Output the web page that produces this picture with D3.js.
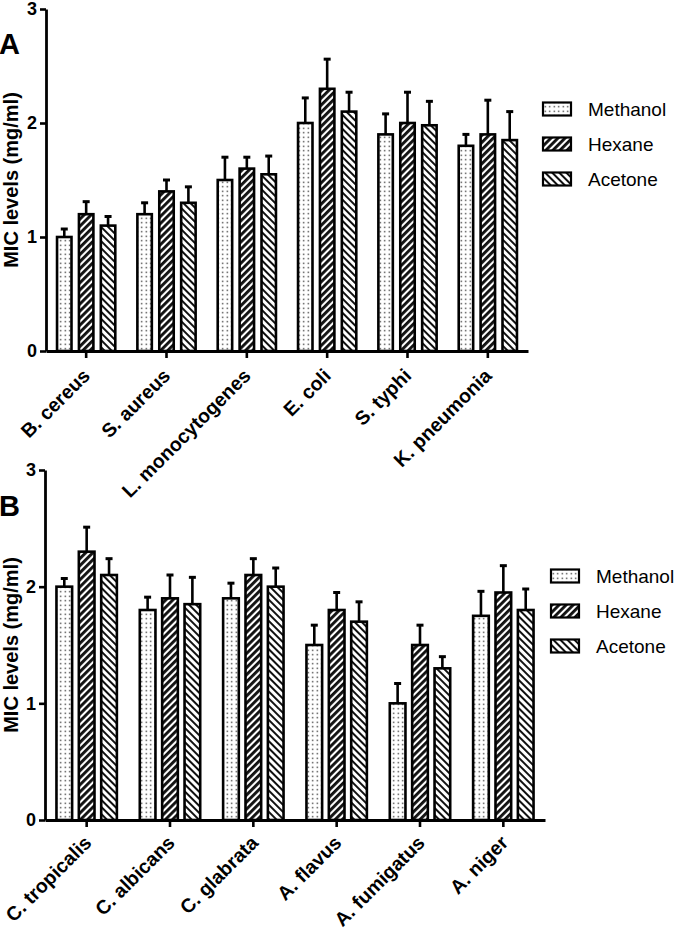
<!DOCTYPE html>
<html>
<head>
<meta charset="utf-8">
<script src="https://cdn.jsdelivr.net/npm/d3@7"></script>
<style>
  body { margin: 0; background: #fff; }
  svg { display: block; font-family: Arial, "Liberation Sans", sans-serif; }
  .lab text { transform-box: view-box; }
</style>
</head>
<body>
<svg id="chart" width="677" height="937"></svg>
<script>
// ---- data ----
const seriesNames = ["Methanol", "Hexane", "Acetone"];
const yTicks = [0, 1, 2, 3];

const categoriesA = ["B. cereus", "S. aureus", "L. monocytogenes", "E. coli", "S. typhi", "K. pneumonia"];
const methanolA = [1.0, 1.2, 1.5, 2.0, 1.9, 1.8];
const hexaneA   = [1.2, 1.4, 1.6, 2.3, 2.0, 1.9];
const acetoneA  = [1.1, 1.3, 1.55, 2.1, 1.98, 1.85];
const methanolErrA = [0.07, 0.10, 0.20, 0.22, 0.18, 0.10];
const hexaneErrA   = [0.11, 0.10, 0.10, 0.26, 0.27, 0.30];
const acetoneErrA  = [0.08, 0.14, 0.16, 0.17, 0.21, 0.25];

const categoriesB = ["C. tropicalis", "C. albicans", "C. glabrata", "A. flavus", "A. fumigatus", "A. niger"];
const methanolB = [2.0, 1.8, 1.9, 1.5, 1.0, 1.75];
const hexaneB   = [2.3, 1.9, 2.1, 1.8, 1.5, 1.95];
const acetoneB  = [2.1, 1.85, 2.0, 1.7, 1.3, 1.8];
const methanolErrB = [0.07, 0.11, 0.13, 0.17, 0.17, 0.21];
const hexaneErrB   = [0.21, 0.20, 0.14, 0.15, 0.17, 0.23];
const acetoneErrB  = [0.14, 0.23, 0.16, 0.17, 0.10, 0.18];

const svg = d3.select("#chart");
const defs = svg.append("defs");

// patterns
const pDots = defs.append("pattern").attr("id", "pat-Methanol")
  .attr("patternUnits", "userSpaceOnUse").attr("width", 4.5).attr("height", 4.5);
pDots.append("rect").attr("width", 4.5).attr("height", 4.5).attr("fill", "#fff");
pDots.append("rect").attr("x", 1.6).attr("y", 1.6).attr("width", 1.3).attr("height", 1.3).attr("fill", "#222");

const pHex = defs.append("pattern").attr("id", "pat-Hexane")
  .attr("patternUnits", "userSpaceOnUse").attr("width", 5).attr("height", 5)
  .attr("patternTransform", "rotate(45)");
pHex.append("rect").attr("width", 5).attr("height", 5).attr("fill", "#fff");
pHex.append("rect").attr("width", 2.9).attr("height", 5).attr("fill", "#111");

const pAce = defs.append("pattern").attr("id", "pat-Acetone")
  .attr("patternUnits", "userSpaceOnUse").attr("width", 5).attr("height", 5)
  .attr("patternTransform", "rotate(-45)");
pAce.append("rect").attr("width", 5).attr("height", 5).attr("fill", "#fff");
pAce.append("rect").attr("width", 2.0).attr("height", 5).attr("fill", "#111");

function drawPanel(cfg) {
  const { categories, values, errors, x0Range, yRange, label, labelY, legendX, legendY, labelOff, groupPad } = cfg;
  const g = svg.append("g");

  const x0 = d3.scaleBand().domain(categories).range(x0Range)
    .paddingInner(0.275).paddingOuter(0.1375);
  const x1 = d3.scaleBand().domain(seriesNames).range([0, x0.bandwidth()]).paddingInner(groupPad);
  const y = d3.scaleLinear().domain([0, 3]).range(yRange);

  const rows = [];
  categories.forEach((c, i) => {
    seriesNames.forEach((s, j) => {
      rows.push({ cat: c, series: s, value: values[j][i], err: errors[j][i] });
    });
  });

  g.append("g").selectAll("rect").data(rows).join("rect")
    .attr("x", d => x0(d.cat) + x1(d.series))
    .attr("y", d => y(d.value))
    .attr("width", x1.bandwidth())
    .attr("height", d => y(0) - y(d.value))
    .attr("fill", d => `url(#pat-${d.series})`)
    .attr("stroke", "#000").attr("stroke-width", 2.6);

  const errG = g.append("g").attr("stroke", "#000");
  errG.selectAll("line.v").data(rows).join("line").attr("class", "v")
    .attr("x1", d => x0(d.cat) + x1(d.series) + x1.bandwidth() / 2)
    .attr("x2", d => x0(d.cat) + x1(d.series) + x1.bandwidth() / 2)
    .attr("y1", d => y(d.value))
    .attr("y2", d => y(d.value + d.err))
    .attr("stroke-width", 2.6);
  errG.selectAll("line.c").data(rows).join("line").attr("class", "c")
    .attr("x1", d => x0(d.cat) + x1(d.series) + x1.bandwidth() / 2 - 3.5)
    .attr("x2", d => x0(d.cat) + x1(d.series) + x1.bandwidth() / 2 + 3.5)
    .attr("y1", d => y(d.value + d.err))
    .attr("y2", d => y(d.value + d.err))
    .attr("stroke-width", 3);

  const yAx = g.append("g").attr("transform", `translate(${x0Range[0]},0)`)
    .call(d3.axisLeft(y).tickValues(yTicks).tickFormat(d3.format("d")).tickSize(6).tickSizeOuter(0).tickPadding(3));
  yAx.select(".domain").attr("stroke-width", 2.8);
  yAx.selectAll(".tick line").attr("stroke-width", 2.6);
  yAx.selectAll(".tick text").attr("font-size", 18).attr("font-weight", "bold").attr("fill", "#000")
    .attr("font-family", "Arial, 'Liberation Sans', sans-serif");

  const xAx = g.append("g").attr("transform", `translate(0,${y(0)})`)
    .call(d3.axisBottom(x0).tickSize(7).tickSizeOuter(0).tickFormat(""));
  xAx.select(".domain").attr("stroke-width", 2.8);
  xAx.selectAll(".tick line").attr("stroke-width", 2.6);
  xAx.selectAll(".tick text").remove();

  // rotated category labels via CSS transform
  g.append("g").attr("class", "lab").selectAll("text").data(categories).join("text")
    .attr("font-size", 19.5).attr("font-weight", "bold").attr("fill", "#000")
    .attr("text-anchor", "end")
    .style("transform-origin", "0px 0px")
    .style("transform", d => `translate(${x0(d) + x0.bandwidth() / 2 + labelOff[0]}px, ${y(0) + labelOff[1]}px) rotate(-45deg)`)
    .text(d => d);

  g.append("text")
    .attr("transform", `translate(18,${(yRange[0] + yRange[1]) / 2}) rotate(-90)`)
    .attr("text-anchor", "middle")
    .attr("font-size", 20).attr("font-weight", "bold")
    .text("MIC levels (mg/ml)");

  g.append("text").attr("x", -1).attr("y", labelY)
    .attr("font-size", 29).attr("font-weight", "bold").text(label);

  const lg = g.append("g").attr("transform", `translate(${legendX},${legendY})`);
  seriesNames.forEach((s, j) => {
    const row = lg.append("g").attr("transform", `translate(0,${j * 35})`);
    row.append("rect").attr("x", 0).attr("y", -6.5).attr("width", 28).attr("height", 13)
      .attr("fill", `url(#pat-${s})`).attr("stroke", "#000").attr("stroke-width", 2.2);
    row.append("text").attr("x", 45).attr("y", 0).attr("dy", "0.35em")
      .attr("font-size", 19).text(s);
  });
}

drawPanel({
  categories: categoriesA,
  values: [methanolA, hexaneA, acetoneA],
  errors: [methanolErrA, hexaneErrA, acetoneErrA],
  x0Range: [46, 528],
  yRange: [351, 9],
  label: "A", labelY: 54,
  legendX: 543, legendY: 109,
  labelOff: [5, 26],
  groupPad: 0.34
});

drawPanel({
  categories: categoriesB,
  values: [methanolB, hexaneB, acetoneB],
  errors: [methanolErrB, hexaneErrB, acetoneErrB],
  x0Range: [45, 545],
  yRange: [820, 470],
  label: "B", labelY: 516,
  legendX: 551, legendY: 576,
  labelOff: [6, 24],
  groupPad: 0.3
});
</script>
</body>
</html>
